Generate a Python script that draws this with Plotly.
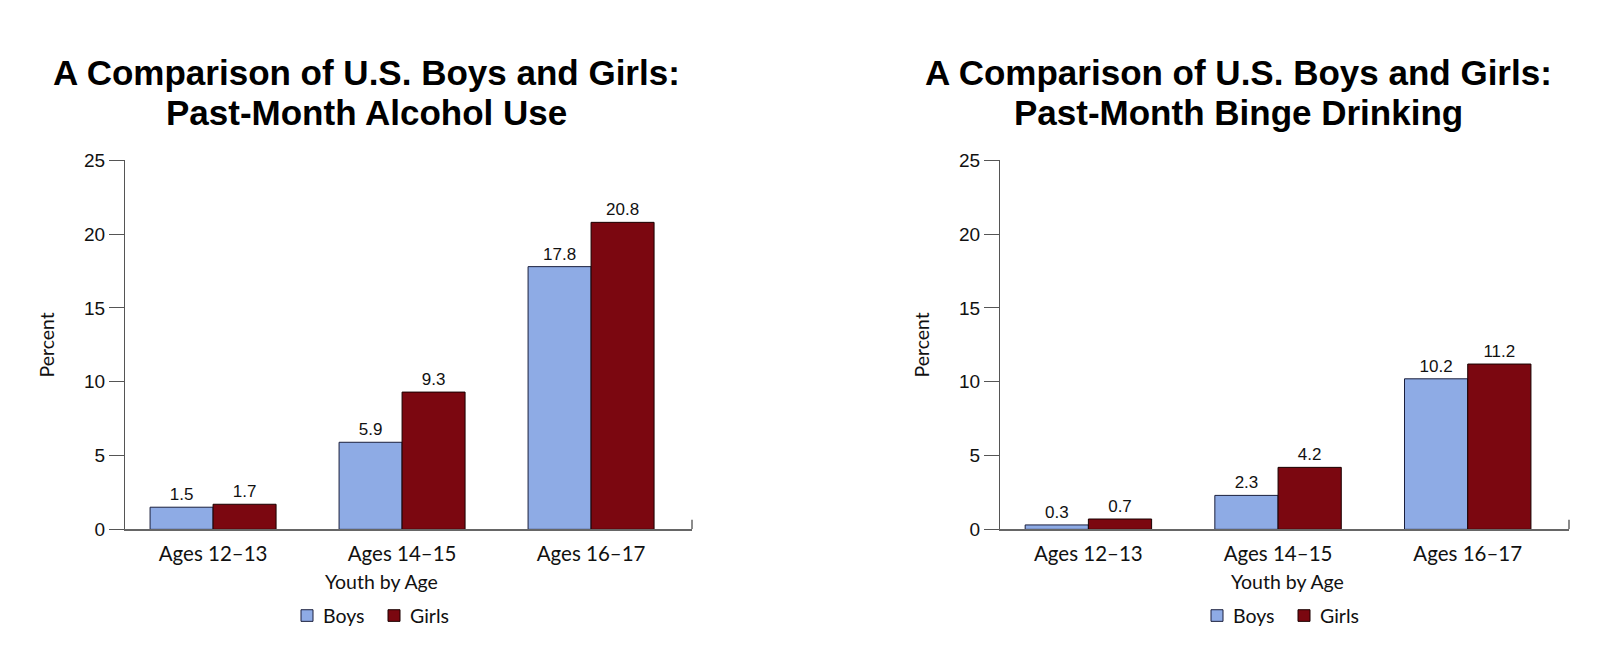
import plotly.graph_objects as go

categories = ["Ages 12–13", "Ages 14–15", "Ages 16–17"]
alcohol_boys = [1.5, 5.9, 17.8]
alcohol_girls = [1.7, 9.3, 20.8]
binge_boys = [0.3, 2.3, 10.2]
binge_girls = [0.7, 4.2, 11.2]
series_names = ["Boys", "Girls"]
titles = [["A Comparison of U.S. Boys and Girls:", "Past-Month Alcohol Use"],
          ["A Comparison of U.S. Boys and Girls:", "Past-Month Binge Drinking"]]
x_title = "Youth by Age"
y_title = "Percent"
y_ticks = [0, 5, 10, 15, 20, 25]

BOYS = "#8EABE5"
GIRLS = "#7B0710"
BOYS_LINE = "#1a1f3d"
GIRLS_LINE = "#1a0000"
NUM_FONT = dict(family="Liberation Sans, Arial", size=17, color="#111")
TICK_FONT = dict(family="Liberation Sans, Arial", size=19, color="#111")
CAT_FONT = dict(family="Lato, Noto Sans", size=20.5, color="#111")
TXT_FONT = dict(family="Lato, Noto Sans", size=19.5, color="#111")

W, H = 1600, 666
fig = go.Figure()

panels = [
    ("x", "y", alcohol_boys, alcohol_girls),
    ("x2", "y2", binge_boys, binge_girls),
]
for xa, ya, b, g in panels:
    for name, vals, col, lc in [(series_names[0], b, BOYS, BOYS_LINE),
                                (series_names[1], g, GIRLS, GIRLS_LINE)]:
        fig.add_trace(go.Bar(
            x=categories, y=vals, name=name, xaxis=xa, yaxis=ya, showlegend=False,
            marker=dict(color=col, line=dict(color=lc, width=1)),
            text=[f"{v:.1f}" for v in vals], textposition="outside",
            textfont=NUM_FONT, cliponaxis=False,
        ))

xdoms = [[117 / W, 684 / W], [992 / W, 1561 / W]]
ydom = [(H - 528) / H, (H - 147) / H]

axis_common_x = dict(
    type="category", range=[-0.466, 2.534], showline=True, linecolor="#666",
    linewidth=1.5, ticks="", tickfont=CAT_FONT, showgrid=False, zeroline=False,
    fixedrange=True, ticklabelstandoff=5,
)
axis_common_y = dict(
    range=[0, 25], tickvals=y_ticks, showline=True, linecolor="#555", linewidth=1,
    ticks="outside", ticklen=15, tickcolor="#555", tickwidth=1,
    tickfont=TICK_FONT, showgrid=False, zeroline=False,
    title=dict(text=y_title, font=TXT_FONT, standoff=24),
)

fig.update_layout(
    width=W, height=H, margin=dict(l=0, r=0, t=0, b=0),
    paper_bgcolor="white", plot_bgcolor="white",
    barmode="group", bargap=1 / 3, bargroupgap=0, showlegend=False,
    xaxis=dict(domain=xdoms[0], anchor="y", **axis_common_x),
    xaxis2=dict(domain=xdoms[1], anchor="y2", **axis_common_x),
    yaxis=dict(domain=ydom, anchor="x", **axis_common_y),
    yaxis2=dict(domain=ydom, anchor="x2", **axis_common_y),
)

# right-end tick on x axes
for xr, yr in [("x domain", "y"), ("x2 domain", "y2")]:
    fig.add_shape(type="line", xref=xr, yref=yr, x0=1, x1=1, y0=0, y1=0.65,
                  line=dict(color="#666", width=1.5))

# titles
centers = [358, 1230]
for c, (l1, l2) in zip(centers, titles):
    for txt, yy in [(l1, 56), (l2, 98)]:
        fig.add_annotation(text=f"<b>{txt}</b>", x=c / W, y=(H - yy) / H,
                           xref="paper", yref="paper", showarrow=False,
                           xanchor="center", yanchor="middle",
                           font=dict(family="Liberation Sans, Arial", size=35, color="#000"))

# x-axis titles
for cx in [373, 1279]:
    fig.add_annotation(text=x_title, x=cx / W, y=(H - 582) / H, xref="paper", yref="paper",
                       showarrow=False, xanchor="center", yanchor="middle", font=TXT_FONT)

# legends (key boxes + labels)
LEG_Y = 617
SQ = 12
for start in [293, 1203]:
    entries = [(start, BOYS, BOYS_LINE, series_names[0]),
               (start + 87, GIRLS, GIRLS_LINE, series_names[1])]
    for sx, col, lc, name in entries:
        fig.add_shape(type="rect", xref="paper", yref="paper",
                      x0=sx / W, x1=(sx + SQ) / W,
                      y0=(H - LEG_Y - SQ / 2) / H, y1=(H - LEG_Y + SQ / 2) / H,
                      fillcolor=col, line=dict(color=lc, width=1))
        fig.add_annotation(text=name, x=(sx + SQ + 8) / W, y=(H - LEG_Y) / H,
                           xref="paper", yref="paper", showarrow=False,
                           xanchor="left", yanchor="middle", font=TXT_FONT)

fig.write_html("out.html")
